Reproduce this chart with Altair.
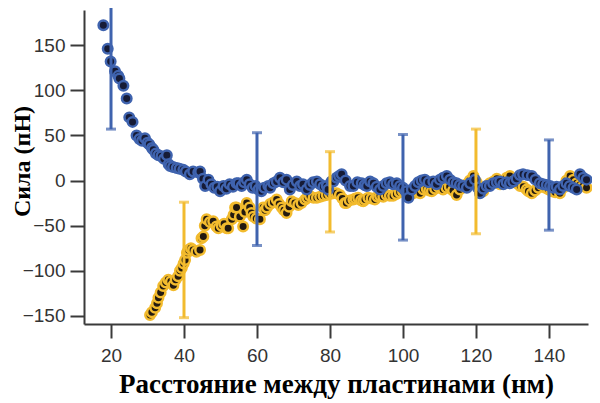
import altair as alt
import pandas as pd

# Blue series (nm, pN)
blue_x = [17.9,19.1,19.9,21.1,22.0,22.3,23.4,24.3,25.0,25.9,27.0,27.8,28.5,29.3,30.0,30.5,31.2,31.6,32.3,33.0,
          33.8,34.5,35.3,35.8,36.2,37.0,38.0,38.8,39.8,40.5,41.6,42.5,43.9,44.4,45.2,45.8,46.7,47.5,48.3,49.1,
          49.9,50.8,51.6,52.5,53.4,54.4,54.9,55.8,56.5,57.2,58.0,58.8,59.6,60.4,61.2,62.0,63.1,63.6,64.5,65.4,
          66.3,67.2,68.1,69.0,69.8,70.9,71.8,72.6,73.6,74.5,75.4,76.4,77.3,78.2,79.1,79.5,80.4,80.9,81.8,82.5,
          83.2,84.3,85.5,86.4,87.5,88.7,89.5,90.1,91.0,91.9,92.8,93.7,94.6,95.5,96.4,97.3,98.3,99.2,100.0,100.8,
          101.5,102.4,103.3,104.2,105.1,106.0,107.0,108.3,109.2,110.1,111.0,112.0,112.9,113.8,114.7,115.6,116.5,117.5,118.4,119.7,
          120.5,121.1,122.0,122.9,123.8,124.7,125.7,126.6,127.5,128.4,129.3,130.2,131.1,132.0,132.9,134.1,135.3,136.3,137.5,138.4,
          139.4,140.3,141.2,142.1,143.0,143.9,144.8,145.7,146.7,147.6,148.5,149.4,150.3]
blue_y = [172,146,132,121,116,113,105,91,70,65,50,46,44,47,42,40,36,34,30,28,
          27,24,28,18,16,15,14,13,12,10,7,10,9,10,2,-6,1,-4,-8,-7,
          -12,-6,-9,-4,-7,-3,-3,-6,-2,1,-4,-8,-6,-10,-12,-8,-6,-8,-3,-1,
          3,-2,1,-10,-5,-1,-6,-4,-10,-5,-2,-1,-4,-7,-6,-10,-1,-1,3,5,
          7,0,-6,-6,-2,-3,-5,-6,-1,-3,-7,-10,-6,-3,-2,-4,-3,-6,-8,-12,
          -19,-10,-6,-2,0,1,-2,-1,-4,1,3,5,1,-2,-3,-5,-6,-8,-3,1,
          -8,-14,-9,-6,-6,-3,-2,-1,-4,-2,-3,-1,2,6,7,6,5,1,-3,-4,
          -5,-6,-8,-7,-10,-6,-3,-6,-8,-10,7,3,1]

# Yellow series (nm, pN)
yellow_x = [30.7,31.2,32.1,32.6,33.0,33.6,34.3,35.0,35.7,36.4,37.1,37.7,38.4,38.9,39.4,39.9,40.3,40.8,41.2,41.9,
            42.5,43.4,44.4,44.8,45.3,45.7,46.2,47.1,48.0,48.9,49.4,50.3,51.0,51.7,52.1,53.1,53.6,54.0,54.4,55.3,
            56.2,56.7,57.2,58.0,58.5,59.0,59.8,60.8,61.7,62.2,62.7,63.6,64.5,65.4,66.1,66.8,67.4,68.1,68.8,69.5,
            70.4,71.3,72.2,73.2,73.8,74.5,75.5,76.4,77.3,78.2,79.1,80.0,80.9,81.8,82.7,83.4,84.1,84.5,85.4,86.4,
            87.0,87.7,88.5,89.1,89.6,90.5,91.4,92.3,93.0,93.7,94.6,95.5,96.4,97.3,98.2,99.1,100.0,101.0,101.9,102.8,
            103.8,104.7,105.6,106.5,107.2,107.9,108.8,109.7,110.4,111.0,111.9,112.8,113.7,114.7,115.6,116.5,117.4,118.3,119.3,120.2,
            121.1,122.0,122.9,123.8,124.8,125.7,126.6,127.5,128.4,129.3,130.2,131.2,132.1,133.0,133.9,134.4,135.3,136.2,137.1,138.0,
            139.0,139.9,140.8,141.7,143.0,143.9,144.8,145.8,146.7,147.6,148.5,149.4,150.3]
yellow_y = [-149,-146,-141,-136,-130,-124,-117,-113,-110,-112,-116,-110,-106,-100,-97,-92,-88,-80,-77,-75,
            -77,-79,-77,-64,-62,-50,-43,-46,-45,-51,-53,-50,-48,-53,-53,-43,-38,-30,-30,-40,
            -51,-35,-25,-30,-36,-40,-42,-43,-30,-33,-30,-26,-24,-21,-26,-30,-33,-36,-29,-23,
            -25,-27,-25,-21,-19,-17,-19,-19,-18,-17,-16,-15,-14,-14,-16,-20,-25,-25,-22,-21,
            -20,-19,-22,-23,-21,-19,-20,-21,-18,-17,-18,-16,-17,-17,-15,-13,-12,-14,-16,-14,
            -13,-14,-10,-9,-11,-12,-9,-7,-8,-10,-8,-7,-11,-16,-10,-6,-4,0,5,-2,
            -8,-12,-6,-3,-1,2,-4,-2,3,5,-1,-3,-6,-7,-10,-12,-14,-11,-8,-5,
            -8,-10,-12,-13,-14,-8,0,5,1,-3,-5,-6,-8]

# Error bars
eb_x = [20, 60, 100, 140, 40, 80, 120]
eb_lo = [57, -72, -66, -55, -152, -57, -59]
eb_hi = [195, 53, 51, 45, -24, 32, 57]
eb_series = ["blue", "blue", "blue", "blue", "yellow", "yellow", "yellow"]

x_ticks = [20, 40, 60, 80, 100, 120, 140]
y_ticks = [-150, -100, -50, 0, 50, 100, 150]

X_DOMAIN = [12.6, 150.7]
Y_DOMAIN = [-159, 189]

BLUE = "#3f63ae"
YELLOW = "#f2bb2e"

blue_df = pd.DataFrame({"x": blue_x, "y": blue_y})
yellow_df = pd.DataFrame({"x": yellow_x, "y": yellow_y})
eb_df = pd.DataFrame({"x": eb_x, "y": eb_lo, "hi": eb_hi, "s": eb_series})
caps = []
for x, lo, hi, s in zip(eb_x, eb_lo, eb_hi, eb_series):
    for v in (lo, hi):
        if Y_DOMAIN[0] <= v <= Y_DOMAIN[1]:
            caps.append({"x": x, "y": v, "s": s})
cap_df = pd.DataFrame(caps)

xs = alt.Scale(domain=X_DOMAIN, nice=False, zero=False)
ys = alt.Scale(domain=Y_DOMAIN, nice=False, zero=False)
color_scale = alt.Scale(domain=["blue", "yellow"], range=[BLUE, YELLOW])

x_axis = alt.Axis(values=x_ticks, title="Расстояние между пластинами (нм)",
                  titleX=252, titleY=60, titleBaseline="middle", titleAlign="center",
                  titleFontSize=27, labelPadding=8)
y_axis = alt.Axis(values=y_ticks, title="Сила (пН)", titleX=-62, titleY=151,
                  titleBaseline="middle", titleAlign="center", titleAngle=270,
                  titleFontSize=24, labelPadding=5)

X = alt.X("x:Q", scale=xs, axis=x_axis)
Y = alt.Y("y:Q", scale=ys, axis=y_axis)

yellow_pts = alt.Chart(yellow_df).mark_point(
    shape="circle", filled=True, size=90, fill="#231a10", stroke=YELLOW, strokeWidth=2.5, opacity=1
).encode(x=X, y=Y)

blue_pts = alt.Chart(blue_df).mark_point(
    shape="circle", filled=True, size=90, fill="#161b36", stroke=BLUE, strokeWidth=2.5, opacity=1
).encode(x=X, y=Y)

bars = alt.Chart(eb_df).mark_rule(strokeWidth=3).encode(
    x=X, y=Y, y2="hi:Q",
    color=alt.Color("s:N", scale=color_scale, legend=None),
)

cap_marks = alt.Chart(cap_df).mark_tick(orient="horizontal", size=10, thickness=3).encode(
    x=X, y=Y,
    color=alt.Color("s:N", scale=color_scale, legend=None),
)

chart = alt.layer(yellow_pts, blue_pts, bars, cap_marks).properties(
    width=504, height=314,
    autosize="none",
    padding={"left": 76, "top": 2, "right": 4, "bottom": 79},
).configure_view(stroke=None).configure_axis(
    grid=False,
    domainColor="#3a3a3a", domainWidth=2,
    tickColor="#3a3a3a", tickWidth=2, tickSize=14,
    labelFont="Liberation Sans", labelFontSize=19, labelColor="#333333",
    titleFont="Liberation Serif", titleFontWeight="bold", titleColor="#000000",
)

chart.save("out.html", embed_options={"renderer": "svg", "actions": False})
